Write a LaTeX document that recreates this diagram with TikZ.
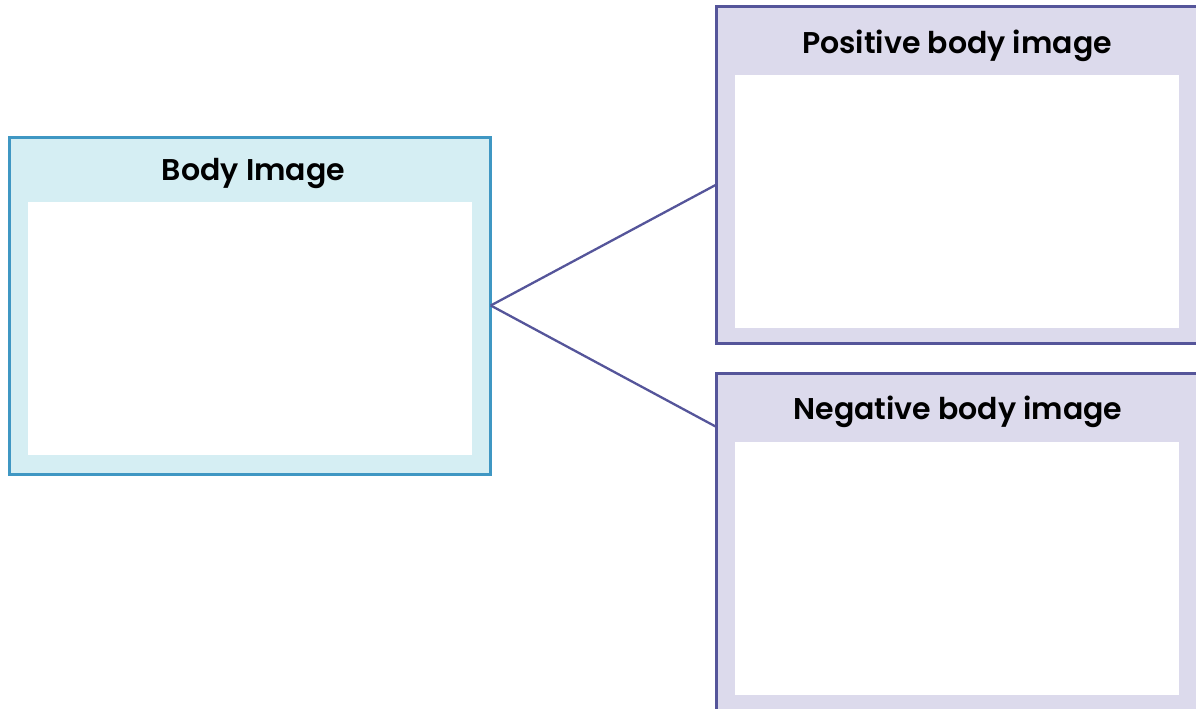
\documentclass[tikz,border=0pt]{standalone}
\usepackage{fontspec}
\setmainfont{Poppins}[UprightFont=* SemiBold, BoldFont=* Bold]
\definecolor{cyanfill}{HTML}{D5EEF3}
\definecolor{cyanline}{HTML}{3F97C3}
\definecolor{purfill}{HTML}{DCDAEC}
\definecolor{purline}{HTML}{55559A}
\begin{document}
\begin{tikzpicture}[x=1pt,y=-1pt,
  outerbox/.style={draw, line width=3pt, minimum width=481pt, minimum height=337pt, inner sep=0pt, outer sep=0pt},
  bodybox/.style={outerbox, draw=cyanline, fill=cyanfill},
  purbox/.style={outerbox, draw=purline, fill=purfill},
  innerbox/.style={fill=white, minimum width=444pt, minimum height=253pt, inner sep=0pt},
  title/.style={font=\fontsize{30}{34}\selectfont, text=black, inner sep=0pt, anchor=center},
  link/.style={draw=purline, line width=2.3pt}]
\useasboundingbox (0,0) rectangle (1196,709);
\clip (0,0) rectangle (1196,709);
\node[bodybox] (body) at (250.25,305.5) {};
\node[innerbox] (bodyin) at (250,328.5) {};
\node[title] (bodyt) at (253.5,173) {Body Image};
\node[purbox] (pos) at (957,175) {};
\node[innerbox] (posin) at (957,201) {};
\node[title] (post) at (957,46) {Positive body image};
\node[purbox] (neg) at (957,541.5) {};
\node[innerbox] (negin) at (957,568) {};
\node[title] (negt) at (958,412) {Negative body image};
\coordinate (pa) at ([yshift=-178pt]pos.north west);
\coordinate (na) at ([yshift=-54pt]neg.north west);
\draw[link] (body.east) -- (pa);
\draw[link] (body.east) -- (na);
\end{tikzpicture}
\end{document}
